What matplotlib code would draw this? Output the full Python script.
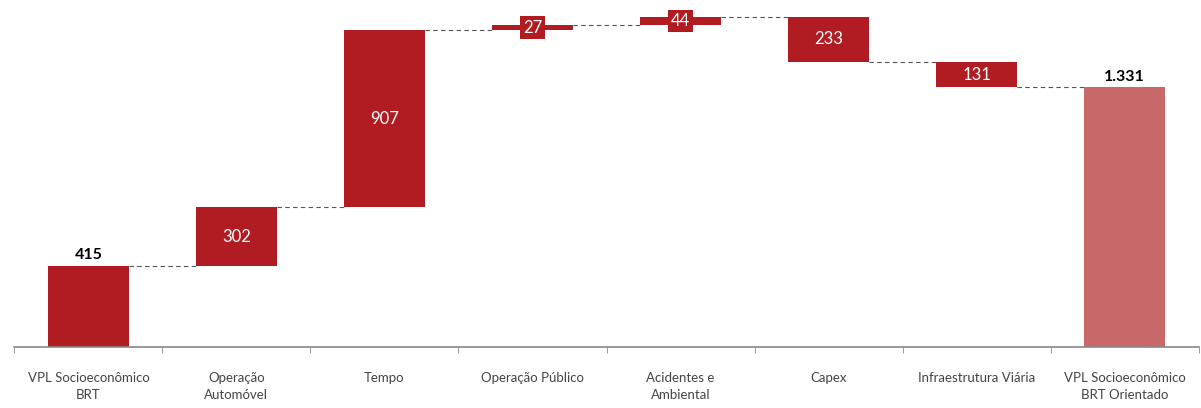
import matplotlib
matplotlib.use('Agg')
import matplotlib.pyplot as plt
import numpy as np

plt.rcParams['font.family'] = ['Lato', 'DejaVu Sans']

# data
categories = ['VPL Socioeconômico\nBRT', 'Operação\nAutomóvel', 'Tempo', 'Operação Público',
              'Acidentes e\nAmbiental', 'Capex', 'Infraestrutura Viária',
              'VPL Socioeconômico\nBRT Orientado']
deltas = [415, 302, 907, 27, 44, -233, -131]
total = 1331
labels = ['415', '302', '907', '27', '44', '233', '131', '1.331']

red = '#b01c22'
light_red = '#c96869'

# waterfall geometry
starts = []
running = 0
for i, d in enumerate(deltas):
    starts.append(running)
    running += d
bottoms = [min(s, s + d) for s, d in zip(starts, deltas)]
heights = [abs(d) for d in deltas]

fig = plt.figure(figsize=(12.01, 4.08), dpi=100)
ax = fig.add_axes([0.012, 0.15, 0.986, 0.85])

x = np.arange(len(categories))
w = 0.55
ax.bar(x[:-1], heights, bottom=bottoms, width=w, color=red, zorder=2)
ax.bar(x[-1], total, width=w, color=light_red, zorder=2)

# connectors
levels = np.cumsum(deltas)
for i, lv in enumerate(levels):
    ax.plot([x[i] + w / 2, x[i + 1] - w / 2], [lv, lv], color='#555555',
            linestyle=(0, (4, 3)), linewidth=0.8, zorder=1)

# labels
ax.text(x[0], deltas[0] + 20, labels[0], ha='center', va='bottom',
        fontsize=11.5, fontweight='bold', color='black')
ax.text(x[-1], total + 20, labels[-1], ha='center', va='bottom',
        fontsize=11.5, fontweight='bold', color='black')
for i in range(1, len(deltas)):
    yc = bottoms[i] + heights[i] / 2
    if heights[i] < 100:
        ax.text(x[i], yc, labels[i], ha='center', va='center', fontsize=12,
                color='white', zorder=3,
                bbox=dict(boxstyle='square,pad=0.2', facecolor=red, edgecolor='none'))
    else:
        ax.text(x[i], yc, labels[i], ha='center', va='center', fontsize=12,
                color='white', zorder=3)

ax.set_xlim(-0.5, len(categories) - 0.5)
ax.set_ylim(0, 1780)
ax.set_yticks([])
for s in ['top', 'right', 'left']:
    ax.spines[s].set_visible(False)
ax.spines['bottom'].set_color('#888888')
ax.spines['bottom'].set_linewidth(1.2)

ax.set_xticks(x)
ax.set_xticklabels(categories, fontsize=9.5, color='#444444',
                   multialignment='center', linespacing=1.5)
ax.tick_params(axis='x', length=0, pad=18)
ax.set_xticks(np.arange(-0.5, len(categories), 1), minor=True)
ax.tick_params(axis='x', which='minor', length=4, color='#888888')

fig.savefig('out.png', dpi=100)
